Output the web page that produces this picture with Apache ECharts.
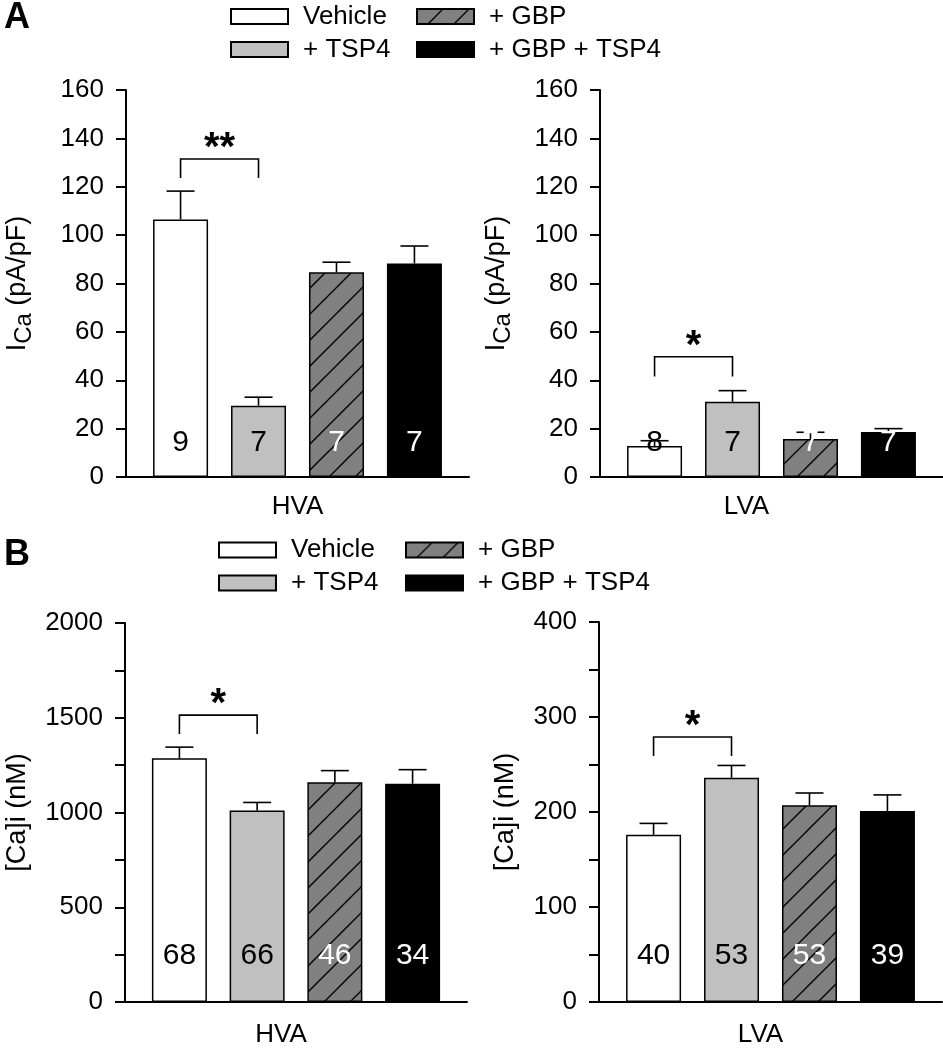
<!DOCTYPE html>
<html><head><meta charset="utf-8">
<script src="https://cdn.jsdelivr.net/npm/echarts@6/dist/echarts.min.js"></script>
<style>html,body{margin:0;padding:0;background:#fff}#c{width:943px;height:1050px}</style>
</head><body><div id="c"></div>
<script>
// ---------- data ----------
const groups = ['Vehicle', '+ TSP4', '+ GBP', '+ GBP + TSP4'];
const categoriesTop = ['HVA', 'LVA'];
const aHvaMean = [106.5, 29.5, 84.6, 88.3];
const aHvaSem  = [11.7, 3.5, 4.2, 7.2];
const aHvaN    = [9, 7, 7, 7];
const aLvaMean = [12.8, 31.1, 15.7, 18.6];
const aLvaSem  = [2.2, 4.6, 2.8, 1.4];
const aLvaN    = [8, 7, 7, 7];
const bHvaMean = [1286, 1010, 1160, 1152];
const bHvaSem  = [59, 43, 61, 74];
const bHvaN    = [68, 66, 46, 34];
const bLvaMean = [176, 236, 207, 201];
const bLvaSem  = [12, 13, 13, 17];
const bLvaN    = [40, 53, 53, 39];
const aTicks    = [0, 20, 40, 60, 80, 100, 120, 140, 160];
const bHvaTicks = [0, 500, 1000, 1500, 2000];
const bLvaTicks = [0, 100, 200, 300, 400];
// significance annotations: [groupFrom, groupTo, bracketTop, legBottom]
const sigMarks = ['**', '*', '*', '*'];
const sigPairs = [[0, 1], [0, 1], [0, 1], [0, 1]];
const sigTops  = [131.5, 49.7, 1514, 279];
const sigLegs  = [123.6, 41.5, 1414, 259];

// ---------- styles ----------
const FONT = '"Liberation Sans", Arial, sans-serif';
function hatch() {
  const s = 26, c = document.createElement('canvas');
  c.width = c.height = s;
  const g = c.getContext('2d');
  g.fillStyle = '#808080'; g.fillRect(0, 0, s, s);
  g.strokeStyle = '#000'; g.lineWidth = 1.4;
  g.beginPath();
  g.moveTo(-2, s + 2); g.lineTo(s + 2, -2);
  g.moveTo(-2, 2); g.lineTo(2, -2);
  g.moveTo(s - 2, s + 2); g.lineTo(s + 2, s - 2);
  g.stroke();
  return c;
}
const fills = ['#ffffff', '#c0c0c0', { image: hatch(), repeat: 'repeat' }, '#000000'];
const nColors = ['#000', '#000', '#fff', '#fff'];

const panels = [
  { grid: { left: 126, top: 90, width: 343, height: 387 }, mean: aHvaMean, sem: aHvaSem, n: aHvaN, ticks: aTicks, minor: 20, cat: categoriesTop[0], catShift: 0, catGap: 16, nOff: 34,
    yName: '{i|I}{s|Ca}{t| (pA/pF)}', yGap: 90 },
  { grid: { left: 600, top: 90, width: 343, height: 387 }, mean: aLvaMean, sem: aLvaSem, n: aLvaN, ticks: aTicks, minor: 20, cat: categoriesTop[1], catShift: -25, catGap: 16, nOff: 34,
    yName: '{i|I}{s|Ca}{t| (pA/pF)}', yGap: 85 },
  { grid: { left: 125, top: 623, width: 342, height: 386 }, mean: bHvaMean, sem: bHvaSem, n: bHvaN, ticks: bHvaTicks, minor: 250, cat: categoriesTop[0], catShift: -15, catGap: 19, nOff: 46.5,
    yName: '{t|[Ca]i (nM)}', yGap: 94 },
  { grid: { left: 599, top: 622, width: 343, height: 386 }, mean: bLvaMean, sem: bLvaSem, n: bLvaN, ticks: bLvaTicks, minor: 50, cat: categoriesTop[1], catShift: -10, catGap: 19, nOff: 46.5,
    yName: '{t|[Ca]i (nM)}', yGap: 80 }
];

const grids = [], xAxes = [], yAxes = [], series = [];
panels.forEach((p, k) => {
  grids.push(p.grid);
  const pad = Math.abs(p.catShift) * 2;
  xAxes.push({
    gridIndex: k, type: 'value', min: -0.7, max: 3.7,
    axisLine: { show: true, onZero: false, lineStyle: { color: '#000', width: 2 } },
    axisTick: { show: true, inside: true, length: 3, customValues: [0, 1, 2, 3], lineStyle: { color: '#000', width: 1.5 } },
    axisLabel: { show: false }, splitLine: { show: false },
    name: p.cat, nameLocation: 'middle', nameGap: p.catGap,
    nameTextStyle: { fontSize: 26, color: '#000', fontFamily: FONT, lineHeight: 28,
      padding: p.catShift < 0 ? [0, pad, 0, 0] : (p.catShift > 0 ? [0, 0, 0, pad] : 0) }
  });
  const tmax = p.ticks[p.ticks.length - 1];
  yAxes.push({
    gridIndex: k, type: 'value', min: p.ticks[0], max: tmax, interval: p.minor,
    axisLine: { show: true, onZero: false, lineStyle: { color: '#000', width: 2 } },
    axisTick: { show: true, length: 10, lineStyle: { color: '#000', width: 2 } },
    axisLabel: { margin: 22, fontSize: 26, color: '#000', fontFamily: FONT,
      formatter: v => p.ticks.includes(v) ? String(v) : '' },
    splitLine: { show: false },
    name: p.yName, nameLocation: 'middle', nameGap: p.yGap, nameRotate: 90,
    nameTextStyle: { color: '#000', fontFamily: FONT, rich: {
      i: { fontSize: 27, color: '#000', fontFamily: FONT },
      s: { fontSize: 24, color: '#000', fontFamily: FONT, padding: [12, 0, 0, 0] },
      t: { fontSize: 27, color: '#000', fontFamily: FONT }
    } }
  });
  groups.forEach((gname, i) => {
    series.push({
      type: 'bar', name: gname, xAxisIndex: k, yAxisIndex: k,
      barWidth: 55, barGap: '-100%', z: 2,
      data: [[i, p.mean[i]]],
      itemStyle: { color: fills[i], borderColor: '#000', borderWidth: 1.5 },
      emphasis: { disabled: true }, silent: true
    });
  });
  // error bars + n labels
  series.push({
    type: 'custom', xAxisIndex: k, yAxisIndex: k, z: 5, silent: true,
    data: groups.map((g, i) => [i, p.mean[i], p.sem[i], p.n[i]]),
    renderItem: (params, api) => {
      const x = api.value(0), m = api.value(1), s = api.value(2), n = api.value(3);
      const b = api.coord([x, m]), t = api.coord([x, m + s]), z0 = api.coord([x, 0]);
      return { type: 'group', children: [
        { type: 'line', shape: { x1: b[0], y1: b[1], x2: t[0], y2: t[1] }, style: { stroke: '#000', lineWidth: 1.6 } },
        { type: 'line', shape: { x1: t[0] - 14, y1: t[1], x2: t[0] + 14, y2: t[1] }, style: { stroke: '#000', lineWidth: 1.6 } },
        { type: 'text', x: z0[0], y: z0[1] - p.nOff, style: { text: String(n), fill: nColors[params.dataIndex],
          font: '30px ' + FONT, align: 'center', verticalAlign: 'middle' } }
      ] };
    }
  });
  // significance bracket
  series.push({
    type: 'custom', xAxisIndex: k, yAxisIndex: k, z: 5, silent: true,
    data: [[sigPairs[k][0], sigPairs[k][1], sigTops[k], sigLegs[k]]],
    renderItem: (params, api) => {
      const a = api.coord([api.value(0), api.value(3)]), b = api.coord([api.value(0), api.value(2)]);
      const c = api.coord([api.value(1), api.value(2)]), d = api.coord([api.value(1), api.value(3)]);
      return { type: 'group', children: [
        { type: 'polyline', shape: { points: [a, b, c, d] }, style: { stroke: '#000', fill: null, lineWidth: 1.6 } },
        { type: 'text', x: (b[0] + c[0]) / 2, y: b[1] - 10, style: { text: sigMarks[k], fill: '#000',
          font: 'bold 40px ' + FONT, align: 'center', verticalAlign: 'middle' } }
      ] };
    }
  });
});

function legendAt(name, left, top) {
  return { data: [name], left, top, padding: 0, itemWidth: 57, itemHeight: 15, selectedMode: false,
    icon: 'rect',
    textStyle: { fontSize: 26, color: '#000', fontFamily: FONT, lineHeight: 30, padding: [0, 0, 0, 10] } };
}
const legends = [
  legendAt(groups[0], 230, 1.5), legendAt(groups[1], 230, 34.5),
  legendAt(groups[2], 416, 1.5), legendAt(groups[3], 416, 34.5),
  legendAt(groups[0], 218, 535), legendAt(groups[1], 218, 568),
  legendAt(groups[2], 405, 535), legendAt(groups[3], 405, 568)
];

const chart = echarts.init(document.getElementById('c'), null, { renderer: 'canvas' });
chart.setOption({
  animation: false,
  backgroundColor: '#fff',
  textStyle: { fontFamily: FONT },
  grid: grids, xAxis: xAxes, yAxis: yAxes, legend: legends, series,
  graphic: [
    { type: 'text', left: 4, top: 0, style: { text: 'A', font: 'bold 36px ' + FONT, fill: '#000' } },
    { type: 'text', left: 4, top: 537, style: { text: 'B', font: 'bold 36px ' + FONT, fill: '#000' } }
  ]
});
</script></body></html>
